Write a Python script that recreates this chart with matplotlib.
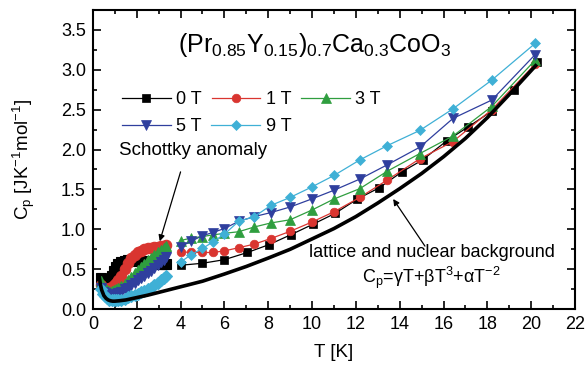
import numpy as np
import matplotlib
matplotlib.use('Agg')
import matplotlib.pyplot as plt
from matplotlib.ticker import MultipleLocator

plt.rcParams['font.family'] = ['Liberation Sans', 'DejaVu Sans']
plt.rcParams['mathtext.fontset'] = 'custom'
plt.rcParams['mathtext.rm'] = 'Liberation Sans'
plt.rcParams['mathtext.it'] = 'Liberation Sans:italic'
plt.rcParams['mathtext.bf'] = 'Liberation Sans:bold'

# low temperature sweep (dense points)
T_low = [0.35, 0.45, 0.55, 0.65, 0.75, 0.85, 0.95, 1.05, 1.15, 1.3, 1.45, 1.6,
         1.75, 1.9, 2.05, 2.2, 2.35, 2.5, 2.65, 2.8, 2.95, 3.1, 3.25, 3.35]
cp0_low = [0.39, 0.33, 0.30, 0.31, 0.36, 0.42, 0.48, 0.53, 0.56, 0.59, 0.60, 0.61,
           0.61, 0.61, 0.60, 0.60, 0.60, 0.59, 0.59, 0.58, 0.58, 0.57, 0.57, 0.56]
cp1_low = [0.30, 0.27, 0.25, 0.25, 0.26, 0.28, 0.30, 0.33, 0.36, 0.42, 0.50, 0.58,
           0.64, 0.68, 0.71, 0.73, 0.75, 0.76, 0.77, 0.78, 0.78, 0.79, 0.79, 0.80]
cp3_low = [0.35, 0.29, 0.26, 0.24, 0.23, 0.23, 0.24, 0.25, 0.26, 0.29, 0.32, 0.36,
           0.40, 0.45, 0.49, 0.53, 0.57, 0.61, 0.64, 0.68, 0.71, 0.74, 0.77, 0.79]
cp5_low = [0.26, 0.22, 0.20, 0.19, 0.18, 0.18, 0.18, 0.19, 0.20, 0.22, 0.25, 0.27,
           0.30, 0.33, 0.36, 0.39, 0.42, 0.45, 0.48, 0.52, 0.55, 0.59, 0.62, 0.65]
cp9_low = [0.25, 0.19, 0.16, 0.14, 0.12, 0.11, 0.11, 0.11, 0.12, 0.12, 0.13, 0.15,
           0.16, 0.18, 0.19, 0.21, 0.23, 0.25, 0.27, 0.30, 0.33, 0.36, 0.39, 0.42]

# high temperature sweep
T0_high = [4.0, 5.0, 6.0, 7.05, 8.05, 9.05, 10.05, 11.05, 12.07, 13.06, 14.1,
           15.04, 16.15, 17.1, 18.2, 19.2, 20.25]
cp0_high = [0.55, 0.575, 0.62, 0.71, 0.81, 0.935, 1.065, 1.20, 1.38, 1.52, 1.72,
            1.87, 2.11, 2.28, 2.48, 2.74, 3.10]
T_high = [4.0, 4.47, 5.0, 5.46, 6.0, 6.65, 7.37, 8.12, 9.0, 9.98, 11.0, 12.18,
          13.44, 14.92, 16.43, 18.2, 20.18]
cp1_high = [0.72, 0.71, 0.71, 0.71, 0.73, 0.77, 0.815, 0.885, 0.975, 1.09, 1.22,
            1.40, 1.62, 1.885, 2.10, 2.50, 3.07]
cp3_high = [0.86, 0.89, 0.91, 0.93, 0.95, 0.97, 1.03, 1.08, 1.12, 1.24, 1.38,
            1.51, 1.73, 1.95, 2.17, 2.54, 3.12]
cp5_high = [0.78, 0.85, 0.92, 0.96, 1.01, 1.10, 1.16, 1.21, 1.28, 1.38, 1.49,
            1.63, 1.81, 2.03, 2.39, 2.62, 3.19]
cp9_high = [0.59, 0.68, 0.76, 0.84, 0.94, 1.10, 1.16, 1.30, 1.40, 1.53, 1.675,
            1.87, 2.05, 2.24, 2.51, 2.87, 3.33]

# lattice + nuclear background
T_bg = [0.3, 0.35, 0.4, 0.5, 0.6, 0.7, 0.8, 0.9, 1.0, 1.2, 1.5, 2.0, 2.5, 3.0,
        4.0, 5.0, 6.0, 7.0, 8.0, 9.0, 10.0, 11.0, 12.0, 13.0, 14.0, 15.0, 16.0,
        17.0, 18.0, 19.0, 20.2]
cp_bg = [0.39, 0.30, 0.24, 0.17, 0.135, 0.115, 0.105, 0.10, 0.10, 0.105, 0.115,
         0.145, 0.175, 0.21, 0.28, 0.35, 0.44, 0.535, 0.64, 0.75, 0.88, 1.01,
         1.16, 1.33, 1.51, 1.70, 1.91, 2.14, 2.40, 2.69, 3.05]

fields = ['0 T', '1 T', '3 T', '5 T', '9 T']
colors = ['black', '#d93530', '#2f9e3f', '#2f3f9e', '#3fb0d6']
markers = ['s', 'o', '^', 'v', 'D']
msizes = [5.2, 6.2, 6.5, 6.5, 5.2]
lows = [cp0_low, cp1_low, cp3_low, cp5_low, cp9_low]
highs = [cp0_high, cp1_high, cp3_high, cp5_high, cp9_high]
T_highs = [T0_high, T_high, T_high, T_high, T_high]

fig = plt.figure(figsize=(5.88, 3.65), dpi=100)
ax = fig.add_axes([0.158, 0.153, 0.82, 0.82])

handles = []
for lab, c, m, ms, lo, hi, th in zip(fields, colors, markers, msizes, lows, highs, T_highs):
    ax.plot(T_low, lo, color=c, marker=m, ms=ms + 1.3, lw=1.5, mec=c, mew=0.8)
    h, = ax.plot(th, hi, color=c, marker=m, ms=ms, lw=0.9, mec=c, mew=0.5,
                 label=lab)
    handles.append(h)

ax.plot(T_bg, cp_bg, color='black', lw=2.6)

ax.set_xlim(0, 22)
ax.set_ylim(0, 3.75)
ax.xaxis.set_major_locator(MultipleLocator(2))
ax.xaxis.set_minor_locator(MultipleLocator(1))
ax.yaxis.set_major_locator(MultipleLocator(0.5))
ax.yaxis.set_minor_locator(MultipleLocator(0.25))
ax.yaxis.set_major_formatter(matplotlib.ticker.FormatStrFormatter('%.1f'))
ax.tick_params(which='both', direction='in', top=True, right=True,
               labelsize=13, width=1.2)
ax.tick_params(which='major', length=6, pad=5)
ax.tick_params(which='minor', length=3)
for s in ax.spines.values():
    s.set_linewidth(1.5)

ax.set_xlabel('T [K]', fontsize=13.5, labelpad=8)
ax.set_ylabel(r'C$_\mathrm{p}$ [JK$^{-1}$mol$^{-1}$]', fontsize=13.5, labelpad=17)

ax.text(10.1, 3.31, r'$\mathrm{(Pr_{0.85}Y_{0.15})_{0.7}Ca_{0.3}CoO_3}$',
        fontsize=18, ha='center', va='center')

leg_kw = dict(frameon=False, fontsize=13, numpoints=1, handlelength=2.7,
              handletextpad=0.3, columnspacing=0.55, borderaxespad=0)
leg1 = ax.legend(handles=handles[:3], ncol=3, loc='center left',
                 bbox_to_anchor=(0.045, 0.70), **leg_kw)
ax.add_artist(leg1)
ax.legend(handles=handles[3:], ncol=2, loc='center left',
          bbox_to_anchor=(0.045, 0.61), **leg_kw)

ax.text(1.2, 1.99, 'Schottky anomaly', fontsize=13.5, ha='left', va='center')
ax.annotate('', xy=(3.05, 0.85), xytext=(4.0, 1.72),
            arrowprops=dict(arrowstyle='-|>', color='black', lw=0.9,
                            mutation_scale=9, shrinkA=0, shrinkB=0))

ax.text(15.45, 0.71, 'lattice and nuclear background', fontsize=13,
        ha='center', va='center')
ax.text(15.45, 0.39, r'$\mathrm{C_p}$=γT+βT$^3$+αT$^{-2}$', fontsize=13,
        ha='center', va='center')
ax.annotate('', xy=(13.7, 1.38), xytext=(15.15, 0.79),
            arrowprops=dict(arrowstyle='-|>', color='black', lw=0.9,
                            mutation_scale=9, shrinkA=0, shrinkB=0))

fig.savefig('out.png', dpi=100)
